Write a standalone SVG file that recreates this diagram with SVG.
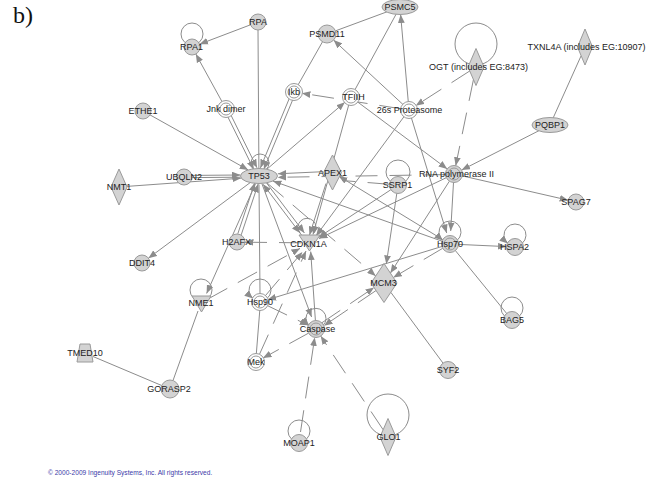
<svg xmlns="http://www.w3.org/2000/svg" width="654" height="483" viewBox="0 0 654 483">
<defs>
<marker id="arr" viewBox="0 0 10 8" refX="10" refY="4" markerWidth="8.5" markerHeight="7" orient="auto" markerUnits="userSpaceOnUse"><path d="M0,0 L10,4 L0,8 z" fill="#8c8c8c"/></marker>
<style>
.e{stroke:#8c8c8c;stroke-width:1;fill:none}
.a{marker-end:url(#arr)}
.d{stroke-dasharray:22 12}
.n{fill:#d3d3d3;stroke:#9a9a9a;stroke-width:1}
.w{fill:#fff;stroke:#9a9a9a;stroke-width:1}
.r{fill:none;stroke:#9a9a9a;stroke-width:1}
.lp{fill:none;stroke:#8c8c8c;stroke-width:1}
text{font-family:"Liberation Sans",Arial,sans-serif;font-size:9px;fill:#222;text-anchor:middle}
</style>
</defs>
<rect width="654" height="483" fill="#fff"/>
<text x="13" y="23" style="font-family:'Liberation Serif','Times New Roman',serif;font-size:24px;text-anchor:start;fill:#111">b)</text>

<g id="connectors">
<path class="e a" d="M250.5,24.8 L199.5,44.2"/>
<path class="e a" d="M222.2,102 L195.8,54"/>
<path class="e" d="M258,30 L258.9,168"/>
<path class="e a" d="M231.1,115.4 L257,167.8"/>
<path class="e a" d="M227.9,117 L253.8,169.4"/>
<path class="e a" d="M150,114.9 L248.2,169.9"/>
<path class="e a" d="M127,186.4 L240.9,178.2"/>
<path class="e a" d="M192,175.4 L240.5,175"/>
<path class="e" d="M192,177.6 L240.6,177.2"/>
<path class="e a" d="M250.2,182.6 L148.4,258.2"/>
<path class="e a" d="M255.7,183.4 L206.6,293.5"/>
<path class="e a" d="M241.2,234.9 L258.2,183.9"/>
<path class="e a" d="M237.8,233.8 L254.8,182.8"/>
<path class="e" d="M198,311 L173,380.5"/>
<path class="e" d="M93,356.5 L161.7,385.5"/>
<path class="e" d="M322.5,41.8 L298,85"/>
<path class="e a" d="M292.6,100.1 L263.8,169.3"/>
<path class="e a" d="M289.2,98.7 L260.4,167.9"/>
<path class="e" d="M335.4,30.9 L387,11.8"/>
<path class="e a" d="M403.1,104.6 L333.6,40.1"/>
<path class="e a" d="M408.3,102 L400.6,14.5"/>
<path class="e" d="M396.3,13.8 L354.8,90"/>
<path class="e a" d="M266.9,169.2 L344.9,102.2"/>
<path class="e a" d="M348.8,104.7 L313,234.5"/>
<path class="e a" d="M357.4,101.8 L447.2,168.9"/>
<path class="e a" d="M411.3,117.6 L446.7,233"/>
<path class="e a" d="M404.2,116.4 L316,236"/>
<path class="e a d" d="M470,70.8 L415.7,105.7"/>
<path class="e a d" d="M473.5,79.3 L455.7,165.7"/>
<path class="e a" d="M539.1,130.6 L461.6,170.1"/>
<path class="e" d="M581.1,55.8 L553.1,118.1"/>
<path class="e a d" d="M401.1,108.8 L301.9,93.2"/>
<path class="e a" d="M462.3,175.9 L568.2,200.2"/>
<path class="e a" d="M453.5,182.5 L450.7,231"/>
<path class="e a" d="M458.5,244.4 L506.5,246.6"/>
<path class="e" d="M455.4,250.6 L506.6,313.4"/>
<path class="e" d="M390.8,292.3 L443,363.1"/>
<path class="e a" d="M396.8,193.4 L386.3,264"/>
<path class="e a" d="M449.4,181.2 L390.4,273.1"/>
<path class="e a d" d="M442.7,248.3 L393.3,277.5"/>
<path class="e a" d="M441.9,246.5 L267.6,299.7"/>
<path class="e a d" d="M376.1,290.5 L324,325.7"/>
<path class="e a d" d="M322,322.7 L374.1,287.5"/>
<path class="e a d" d="M266.9,182.8 L375.7,275.9"/>
<path class="e a" d="M265.9,182.1 L304.4,232.9"/>
<path class="e a" d="M301.6,235.1 L263.1,184.3"/>
<path class="e a" d="M323,171.7 L277.8,173.8"/>
<path class="e a" d="M326,183.5 L309.5,235"/>
<path class="e a d" d="M445.5,174.6 L277.7,177.3"/>
<path class="e d" d="M389.5,184.3 L342,180.5"/>
<path class="e a" d="M442.7,239.6 L338.9,176.2"/>
<path class="e a" d="M442,241.2 L272.9,181"/>
<path class="e a" d="M446.3,177.7 L319,238.6"/>
<path class="e a" d="M390.9,189.7 L318.5,237.4"/>
<path class="e a" d="M315.4,320.5 L310.7,251.5"/>
<path class="e a" d="M261.8,183.4 L311.6,317"/>
<path class="e a d" d="M267.2,305.5 L308.3,325.3"/>
<path class="e a d" d="M308.6,333.1 L263,358.1"/>
<path class="e a d" d="M259.3,354.7 L306,251"/>
<path class="e a d" d="M300.5,432 L314.7,337.4"/>
<path class="e a d" d="M383.2,429.8 L320.7,336.1"/>
<path class="e a d" d="M265.2,295.9 L302.4,252"/>
<path class="e a d" d="M208,299 L300,248.4"/>
<path class="e a d" d="M301,242.8 L245,242.2"/>
<path class="e" d="M259,184.5 L260,294"/>
<path class="e" d="M259.8,310 L256.3,354"/>
</g>

<g id="n-RPA1"><circle class="lp" cx="192" cy="34" r="11"/><circle class="n" cx="192" cy="47" r="8"/><text x="191.5" y="50.2">RPA1</text></g>
<g id="n-RPA"><circle class="n" cx="258" cy="22" r="8"/><text x="258" y="25.2">RPA</text></g>
<g id="n-PSMD11"><circle class="n" cx="327" cy="34" r="9"/><text x="327" y="37.2">PSMD11</text></g>
<g id="n-PSMC5"><ellipse class="n" cx="400" cy="7" rx="18" ry="7.5"/><text x="400" y="10.2">PSMC5</text></g>
<g id="n-Ikb"><circle class="w" cx="294" cy="92" r="8.5"/><circle class="r" cx="294" cy="92" r="6"/><text x="294" y="95.2">Ikb</text></g>
<g id="n-TFIIH"><circle class="w" cx="351" cy="97" r="8.5"/><circle class="r" cx="351" cy="97" r="6"/><text x="353.5" y="100.2">TFIIH</text></g>
<g id="n-26s"><circle class="w" cx="409" cy="110" r="8.5"/><circle class="r" cx="409" cy="110" r="6"/><text x="409.5" y="113.2">26s Proteasome</text></g>
<g id="n-Jnk"><circle class="w" cx="226" cy="109" r="8.5"/><circle class="r" cx="226" cy="109" r="6"/><text x="226" y="112.2">Jnk dimer</text></g>
<g id="n-OGT"><circle class="lp" cx="476" cy="44" r="21"/><polygon class="n" points="476,48.5 484,67 476,85.5 468,67"/><text x="478.5" y="70.2">OGT (includes EG:8473)</text></g>
<g id="n-TXNL4A"><polygon class="n" points="585,29 592.5,47 585,65 577.5,47"/><text x="586.5" y="50.2">TXNL4A (includes EG:10907)</text></g>
<g id="n-PQBP1"><ellipse class="n" cx="550" cy="125" rx="18" ry="7.5"/><text x="550" y="128.2">PQBP1</text></g>
<g id="n-ETHE1"><circle class="n" cx="143" cy="111" r="8"/><text x="143" y="114.2">ETHE1</text></g>
<g id="n-NMT1"><polygon class="n" points="119,169 127,187 119,205 111,187"/><text x="119" y="190.2">NMT1</text></g>
<g id="n-UBQLN2"><circle class="n" cx="184" cy="177" r="8"/><text x="184" y="180.2">UBQLN2</text></g>
<g id="n-DDIT4"><circle class="n" cx="142" cy="263" r="8"/><text x="142" y="266.2">DDIT4</text></g>
<g id="n-NME1"><circle class="lp" cx="201" cy="290" r="11"/><polygon class="n" points="192,296 211,296 201.5,312"/><text x="201" y="306.2">NME1</text></g>
<g id="n-H2AFX"><circle class="n" cx="237" cy="242" r="8"/><text x="236.5" y="245.2">H2AFX</text></g>
<g id="n-TP53"><circle class="lp" cx="260" cy="163" r="9"/><ellipse class="n" cx="259" cy="176" rx="18.5" ry="7.5"/><text x="259" y="179.2">TP53</text></g>
<g id="n-APEX1"><polygon class="n" points="332.5,155 341.5,172.5 332.5,190 323.5,172.5"/><text x="332.5" y="175.7">APEX1</text></g>
<g id="n-SSRP1"><circle class="lp" cx="398" cy="172" r="12"/><circle class="n" cx="398" cy="185" r="8.5"/><text x="397.5" y="188.2">SSRP1</text></g>
<g id="n-RNApol"><circle class="n" cx="454" cy="174" r="8.5"/><circle class="r" cx="454" cy="174" r="6"/><text x="456.5" y="177.2">RNA polymerase II</text></g>
<g id="n-SPAG7"><circle class="n" cx="576" cy="202" r="8"/><text x="576" y="205.2">SPAG7</text></g>
<g id="n-Hsp70"><path class="lp a" d="M457,240.5 A11,11 0 1 0 443,240.5"/><circle class="n" cx="450" cy="244" r="8.5"/><circle class="r" cx="450" cy="244" r="6"/><text x="450" y="247.2">Hsp70</text></g>
<g id="n-HSPA2"><path class="lp a" d="M522,243.5 A11,11 0 1 0 508,243.5"/><circle class="n" cx="515" cy="247" r="8.5"/><text x="514.5" y="250.2">HSPA2</text></g>
<g id="n-BAG5"><circle class="lp" cx="512" cy="308" r="11"/><circle class="n" cx="512" cy="320" r="8.5"/><text x="512" y="323.2">BAG5</text></g>
<g id="n-CDKN1A"><path class="lp a" d="M314,233 A9,9 0 1 0 300,233"/><polygon class="n" points="299,235 320,235 309.5,251"/><text x="308.5" y="247.2">CDKN1A</text></g>
<g id="n-MCM3"><polygon class="n" points="384,263.5 397,283 384,302.5 371,283"/><text x="383.5" y="286.2">MCM3</text></g>
<g id="n-Hsp90"><path class="lp a" d="M267,298.5 A11,11 0 1 0 253,298.5"/><circle class="w" cx="260" cy="302" r="8.5"/><circle class="r" cx="260" cy="302" r="6"/><text x="260" y="305.2">Hsp90</text></g>
<g id="n-Caspase"><path class="lp a" d="M323,325.5 A10,10 0 1 0 309,325.5"/><circle class="n" cx="316" cy="329" r="8.5"/><circle class="r" cx="316" cy="329" r="6"/><text x="317.5" y="332.2">Caspase</text></g>
<g id="n-Mek"><circle class="w" cx="256" cy="362" r="8.5"/><circle class="r" cx="256" cy="362" r="6"/><text x="256" y="365.2">Mek</text></g>
<g id="n-MOAP1"><circle class="lp" cx="299" cy="431" r="11"/><circle class="n" cx="299" cy="443" r="8.5"/><text x="299" y="445.7">MOAP1</text></g>
<g id="n-GLO1"><circle class="lp" cx="388" cy="415" r="21"/><polygon class="n" points="388,418.5 396,437 388,455.5 380,437"/><text x="388.5" y="440.2">GLO1</text></g>
<g id="n-SYF2"><circle class="n" cx="448" cy="370" r="8.5"/><text x="448" y="373.2">SYF2</text></g>
<g id="n-GORASP2"><circle class="n" cx="170" cy="389" r="9"/><text x="169" y="392.2">GORASP2</text></g>
<g id="n-TMED10"><polygon class="n" points="80,344 90,344 93,362 77,362"/><text x="85" y="356.2">TMED10</text></g>

<text x="48" y="475" style="font-size:6.6px;text-anchor:start;fill:#3b3ba8">© 2000-2009 Ingenuity Systems, Inc. All rights reserved.</text>
</svg>
